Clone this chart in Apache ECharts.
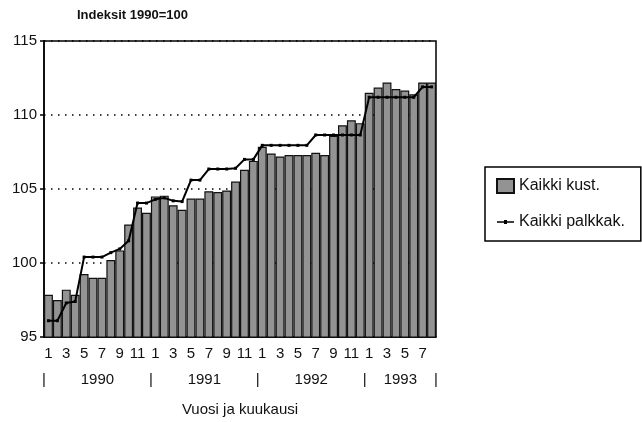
<!DOCTYPE html>
<html>
<head>
<meta charset="utf-8">
<script src="https://cdn.jsdelivr.net/npm/echarts@6/dist/echarts.min.js"></script>
<style>
  html, body { margin: 0; padding: 0; background: #fff; }
  #chart { width: 642px; height: 422px; }
</style>
</head>
<body>
<div id="chart"></div>
<script>
// vuodet ja kuukausien määrä per vuosi (1993 vain elokuuhun)
const years = ['1990', '1991', '1992', '1993'];
const monthsPerYear = [12, 12, 12, 8];

// Kaikki kustannukset (pylväät), indeksi 1990=100
const kaikkiKust = [
  97.85, 97.5, 98.2, 97.85, 99.25, 99.0, 99.0, 100.2, 100.85, 102.6, 103.75, 103.4,
  104.5, 104.55, 103.9, 103.6, 104.35, 104.35, 104.85, 104.8, 104.9, 105.5, 106.3, 106.9,
  107.85, 107.4, 107.2, 107.3, 107.3, 107.3, 107.45, 107.3, 108.6, 109.3, 109.65, 109.45,
  111.5, 111.85, 112.2, 111.75, 111.65, 111.4, 112.2, 112.2
];

// Kaikki palkkakustannukset (viiva)
const kaikkiPalkkak = [
  96.1, 96.1, 97.3, 97.4, 100.4, 100.4, 100.4, 100.7, 100.95, 101.5, 104.05, 104.05,
  104.3, 104.4, 104.2, 104.15, 105.6, 105.6, 106.35, 106.35, 106.35, 106.4, 107.0, 107.0,
  107.95, 107.95, 107.95, 107.95, 107.95, 107.95, 108.65, 108.65, 108.65, 108.65, 108.65, 108.65,
  111.2, 111.2, 111.2, 111.2, 111.2, 111.2, 111.9, 111.9
];

const months = [];
monthsPerYear.forEach(n => {
  for (let m = 1; m <= n; m++) months.push(String(m));
});

// vuosirivin paikat: rajat '|' ja vuoden keskikohta
const yearLabels = {};
let pos = 0;
yearLabels[0] = '|';
monthsPerYear.forEach((n, i) => {
  yearLabels[pos + n / 2] = years[i];
  pos += n;
  yearLabels[pos] = '|';
});
const yearTicks = Object.keys(yearLabels).map(Number).sort((a, b) => a - b);

const font = 'Arial, "Liberation Sans", Helvetica, sans-serif';
const txt = '#111';

const chart = echarts.init(document.getElementById('chart'));
chart.setOption({
  animation: false,
  textStyle: { fontFamily: font, color: txt },
  title: {
    text: 'Indeksit 1990=100',
    left: 77,
    top: 9,
    padding: 0,
    textStyle: { fontSize: 13, fontWeight: 'bold', color: txt, fontFamily: font }
  },
  grid: {
    left: 44,
    right: 206,
    top: 41,
    bottom: 81,
    show: true,
    borderColor: '#000',
    borderWidth: 1.5,
    backgroundColor: 'transparent'
  },
  legend: {
    orient: 'vertical',
    left: 485,
    top: 167,
    padding: [11, 16, 11, 11],
    itemGap: 20,
    itemWidth: 17,
    itemHeight: 14,
    borderColor: '#000',
    borderWidth: 1.5,
    textStyle: { fontSize: 16, color: txt, fontFamily: font },
    data: [
      { name: 'Kaikki kust.', icon: 'rect' },
      { name: 'Kaikki palkkak.', icon: 'path://M0,6.2H7V5H10V6.2H17V7.8H10V9H7V7.8H0Z' }
    ]
  },
  xAxis: [
    {
      type: 'category',
      data: months,
      axisLine: { lineStyle: { color: '#000', width: 1.5 } },
      axisTick: { show: false },
      axisLabel: { interval: 1, margin: 9, fontSize: 15, color: txt, fontFamily: font }
    },
    {
      type: 'value',
      position: 'bottom',
      offset: 26,
      min: 0,
      max: pos,
      axisLine: { show: false },
      axisTick: { show: false },
      splitLine: { show: false },
      axisLabel: {
        customValues: yearTicks,
        formatter: v => yearLabels[v] || '',
        margin: 9,
        fontSize: 15,
        color: txt,
        fontFamily: font
      },
      name: 'Vuosi ja kuukausi',
      nameLocation: 'middle',
      nameGap: 39,
      nameTextStyle: { fontSize: 15, color: txt, fontFamily: font }
    }
  ],
  yAxis: {
    type: 'value',
    min: 95,
    max: 115,
    interval: 5,
    axisLine: { show: true, lineStyle: { color: '#000', width: 1.5 } },
    axisTick: { show: true, length: 4, lineStyle: { color: '#000', width: 1.5 } },
    axisLabel: { margin: 7, fontSize: 15, color: txt, fontFamily: font },
    splitLine: { show: true, lineStyle: { color: '#000', width: 1.5, type: [1.5, 5.5] } }
  },
  series: [
    {
      name: 'Kaikki kust.',
      type: 'bar',
      xAxisIndex: 0,
      data: kaikkiKust,
      barCategoryGap: '0%',
      itemStyle: { color: '#939393', borderColor: '#111', borderWidth: 1.2 }
    },
    {
      name: 'Kaikki palkkak.',
      type: 'line',
      xAxisIndex: 0,
      data: kaikkiPalkkak,
      symbol: 'rect',
      symbolSize: 3,
      z: 5,
      lineStyle: { color: '#000', width: 2 },
      itemStyle: { color: '#000' }
    }
  ]
});
</script>
</body>
</html>
